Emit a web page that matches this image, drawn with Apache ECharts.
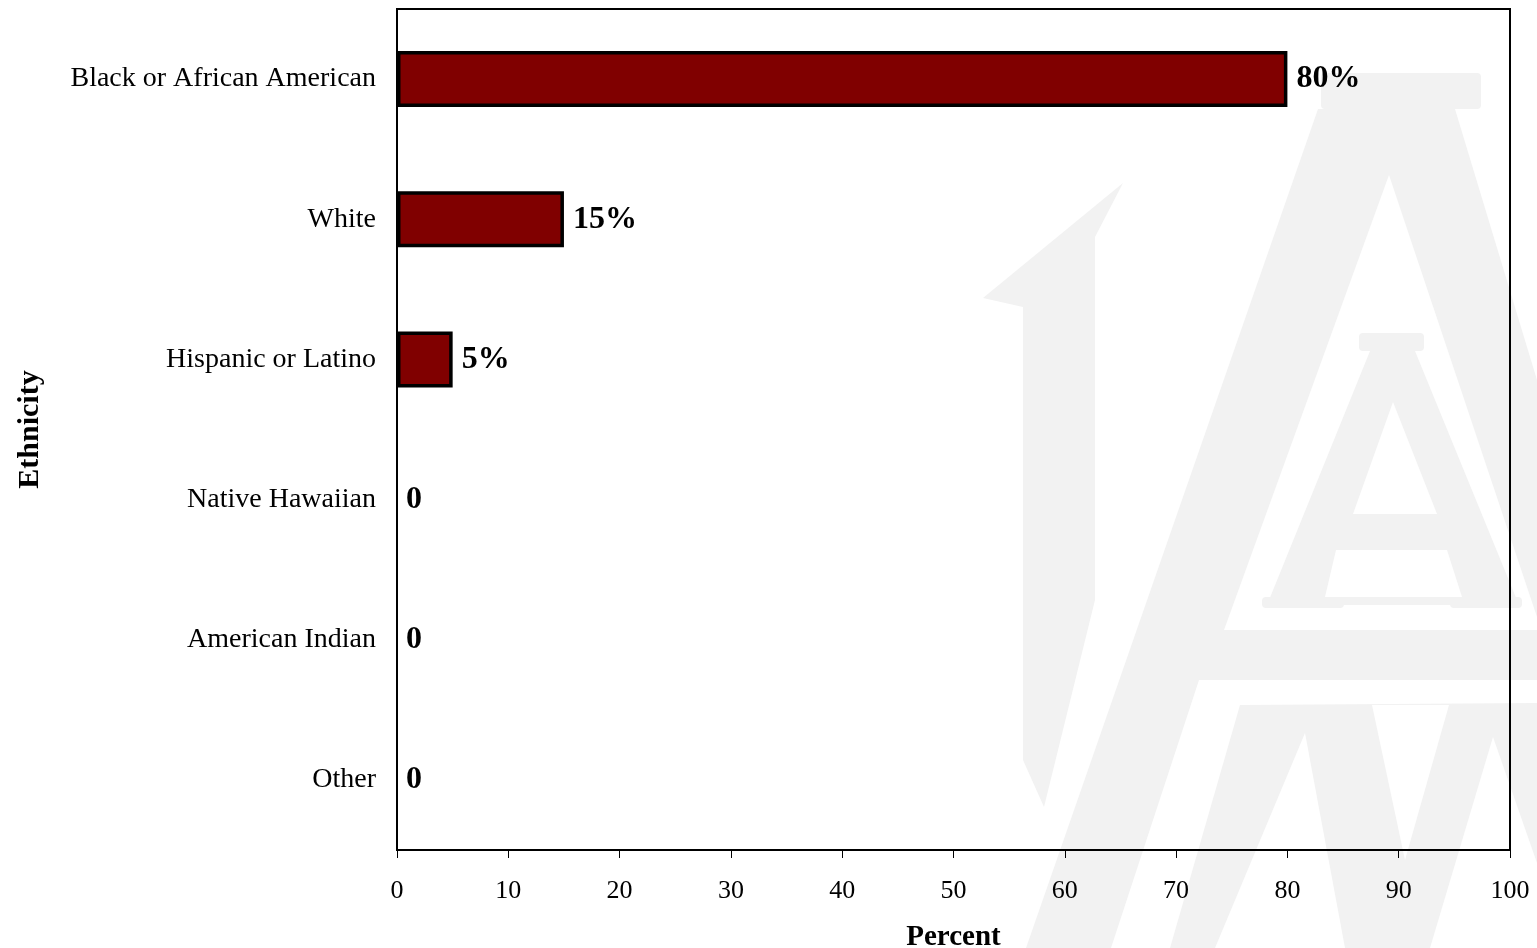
<!DOCTYPE html>
<html>
<head>
<meta charset="utf-8">
<script src="https://cdn.jsdelivr.net/npm/echarts@6/dist/echarts.min.js"></script>
<style>
html,body{margin:0;padding:0;background:#fff;overflow:hidden;}
#chart{width:1537px;height:948px;}
</style>
</head>
<body>
<div id="chart"></div>
<script>
const categories = ['Black or African American', 'White', 'Hispanic or Latino', 'Native Hawaiian', 'American Indian', 'Other'];
const percentValues = [80, 15, 5, 0, 0, 0];
const xTicks = [0, 10, 20, 30, 40, 50, 60, 70, 80, 90, 100];

const WM = '#f2f2f2';
function poly(points, fill) {
  return { type: 'polygon', silent: true, z: -10, shape: { points: points }, style: { fill: fill } };
}
function rect(x, y, w, h, fill) {
  return { type: 'rect', silent: true, z: -10, shape: { x: x, y: y, width: w, height: h, r: 4 }, style: { fill: fill } };
}
// faint background watermark (decoration)
const watermark = [
  rect(1321, 73, 160, 36, WM),
  poly([[1318,109],[1455,109],[1537,380],[1537,948],[1026,948]], WM),
  poly([[983,298],[1123,183],[1095,237],[1095,600],[1044,807],[1023,760],[1023,307]], WM),
  poly([[1389,175],[1224,630],[1537,630],[1537,617]], '#fff'),
  poly([[1199,680],[1537,680],[1537,703],[1240,705],[1170,948],[1111,948]], '#fff'),
  poly([[1305,733],[1345,948],[1215,948]], '#fff'),
  poly([[1372,705],[1449,705],[1405,860]], '#fff'),
  poly([[1493,737],[1537,863],[1537,948],[1430,948]], '#fff'),
  rect(1359, 333, 65, 18, WM),
  poly([[1370,351],[1415,351],[1519,605],[1267,605]], WM),
  rect(1262, 597, 82, 11, WM),
  rect(1450, 597, 72, 11, WM),
  poly([[1393,402],[1353,514],[1437,514]], '#fff'),
  poly([[1336,550],[1447,550],[1462,597],[1325,597]], '#fff')
];

const barData = percentValues.map(function (v) {
  return { value: v, itemStyle: { borderWidth: v === 0 ? 0 : 3.5 } };
});

const chart = echarts.init(document.getElementById('chart'), null, { renderer: 'canvas' });
const serif = '"Liberation Serif", "Times New Roman", serif';
chart.setOption({
  animation: false,
  backgroundColor: '#fff',
  graphic: watermark,
  grid: {
    left: 397, right: 27, top: 9, bottom: 98,
    containLabel: false, outerBoundsMode: 'none',
    show: true, borderColor: '#000', borderWidth: 2, backgroundColor: 'transparent', z: 1
  },
  xAxis: {
    type: 'value', min: xTicks[0], max: xTicks[xTicks.length - 1], interval: 10,
    name: 'Percent', nameLocation: 'middle', nameGap: 73,
    nameTextStyle: { fontFamily: serif, fontSize: 29, fontWeight: 'bold', color: '#000' },
    axisLine: { show: true, lineStyle: { color: '#000', width: 2 } },
    axisTick: { show: true, inside: false, length: 8, lineStyle: { color: '#000', width: 1 } },
    axisLabel: { fontFamily: serif, fontSize: 26, color: '#000', margin: 28 },
    splitLine: { show: false }
  },
  yAxis: {
    type: 'category', data: categories, inverse: true,
    name: 'Ethnicity', nameLocation: 'middle', nameRotate: 90, nameGap: 352,
    nameTextStyle: { fontFamily: serif, fontSize: 30, fontWeight: 'bold', color: '#000' },
    axisLine: { show: true, lineStyle: { color: '#000', width: 2 } },
    axisTick: { show: false },
    axisLabel: { fontFamily: serif, fontSize: 28, color: '#000', margin: 21 },
    splitLine: { show: false }
  },
  series: [{
    type: 'bar',
    data: barData,
    barWidth: 56,
    itemStyle: { color: '#800000', borderColor: '#000', borderWidth: 3.5 },
    label: {
      show: true, position: 'right', distance: 9,
      fontFamily: serif, fontSize: 32, fontWeight: 'bold', color: '#000',
      formatter: function (p) { return p.value === 0 ? '0' : p.value + '%'; }
    }
  }]
});
</script>
</body>
</html>
